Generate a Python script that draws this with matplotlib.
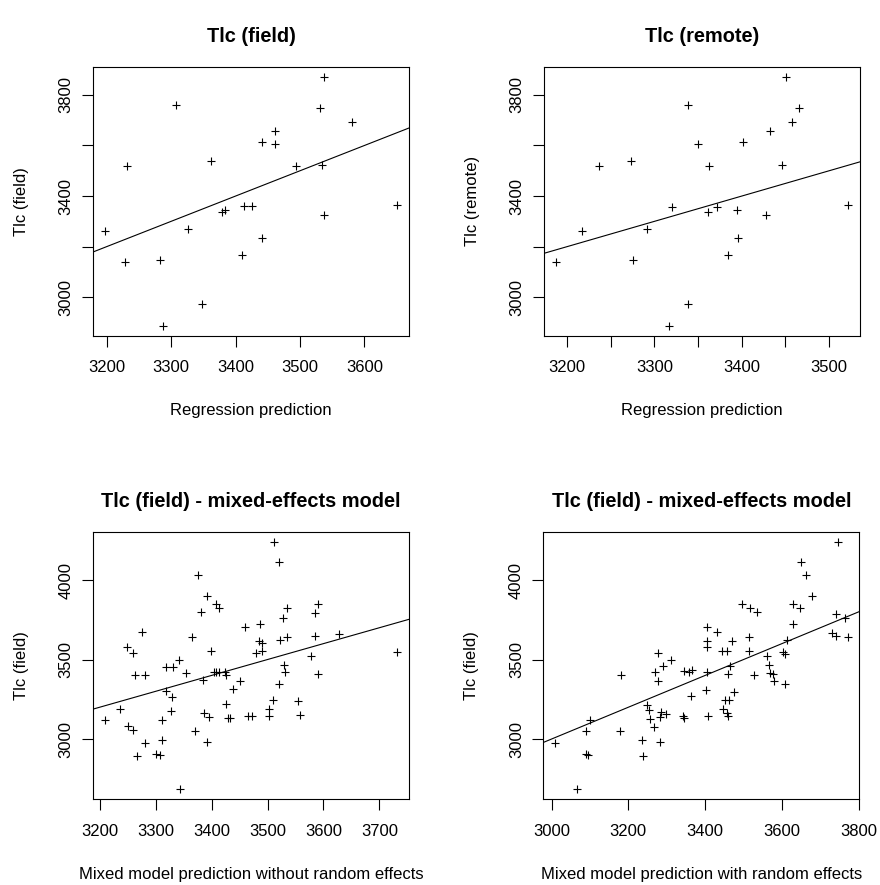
import matplotlib
matplotlib.use("Agg")
import matplotlib.pyplot as plt
from matplotlib.ticker import MultipleLocator, FuncFormatter

plt.rcParams['font.family'] = ['Liberation Sans', 'DejaVu Sans']

# top left: observed field Tlc against regression prediction
reg_pred_a = [3197, 3231, 3229, 3283, 3288, 3308, 3327, 3348, 3362, 3379, 3383, 3410, 3413,
              3426, 3441, 3441, 3461, 3461, 3494, 3531, 3534, 3537, 3537, 3581, 3651]
tlc_field_a = [3261, 3517, 3140, 3148, 2888, 3759, 3270, 2973, 3537, 3336, 3345, 3165, 3359,
               3359, 3235, 3612, 3659, 3605, 3517, 3749, 3523, 3326, 3871, 3692, 3366]

# top right: remote Tlc against regression prediction
reg_pred_b = [3187, 3217, 3236, 3273, 3275, 3291, 3317, 3320, 3338, 3339, 3350, 3361, 3363,
              3372, 3384, 3395, 3396, 3401, 3428, 3432, 3446, 3451, 3458, 3466, 3522]
tlc_remote = [3140, 3261, 3517, 3537, 3148, 3270, 2888, 3356, 3759, 2973, 3605, 3336, 3517,
              3356, 3165, 3345, 3235, 3612, 3326, 3659, 3523, 3871, 3692, 3749, 3366]

# bottom left: mixed model, fixed effects only
mm_fixed_pred = [3512, 3521, 3375, 3392, 3408, 3414, 3382, 3534, 3591, 3585, 3527, 3276, 3459,
                 3486, 3365, 3248, 3260, 3399, 3484, 3490, 3480, 3490, 3523, 3534, 3585, 3627,
                 3577, 3342, 3319, 3331, 3264, 3281, 3355, 3384, 3404, 3408, 3414, 3424, 3426,
                 3451, 3439, 3529, 3531, 3521, 3591, 3319, 3329, 3237, 3327, 3312, 3426, 3510,
                 3555, 3502, 3502, 3558, 3386, 3396, 3429, 3433, 3465, 3473, 3209, 3251, 3260,
                 3370, 3281, 3312, 3392, 3267, 3301, 3307, 3343, 3732]
tlc_field_c = [4238, 4111, 4033, 3900, 3852, 3825, 3797, 3825, 3852, 3790, 3760, 3672, 3706,
               3722, 3641, 3576, 3539, 3553, 3618, 3603, 3539, 3555, 3622, 3643, 3648, 3662,
               3522, 3495, 3455, 3455, 3405, 3405, 3413, 3372, 3424, 3420, 3424, 3420, 3401,
               3363, 3313, 3466, 3422, 3344, 3412, 3301, 3265, 3186, 3177, 3117, 3219, 3244,
               3242, 3192, 3148, 3153, 3161, 3136, 3134, 3134, 3144, 3148, 3119, 3081, 3054,
               3050, 2975, 2992, 2983, 2893, 2906, 2898, 2685, 3549]

# bottom right: mixed model with random effects
mm_random_pred = [3747, 3649, 3663, 3678, 3628, 3646, 3497, 3518, 3536, 3740, 3765, 3630, 3404,
                  3432, 3730, 3741, 3771, 3404, 3404, 3514, 3612, 3469, 3443, 3458, 3514, 3603,
                  3609, 3276, 3311, 3289, 3269, 3276, 3181, 3345, 3358, 3365, 3404, 3460, 3466,
                  3527, 3561, 3566, 3570, 3577, 3579, 3607, 3363, 3402, 3475, 3452, 3462, 3447,
                  3458, 3460, 3408, 3343, 3345, 3249, 3255, 3257, 3282, 3285, 3298, 3268, 3235,
                  3283, 3238, 3179, 3091, 3101, 3009, 3091, 3095, 3065]
tlc_field_d = [4238, 4111, 4033, 3900, 3852, 3825, 3852, 3825, 3800, 3789, 3760, 3722, 3706,
               3672, 3664, 3649, 3641, 3618, 3576, 3641, 3622, 3614, 3553, 3553, 3553, 3545,
               3537, 3539, 3495, 3457, 3420, 3367, 3405, 3426, 3420, 3436, 3420, 3411, 3457,
               3403, 3522, 3463, 3415, 3409, 3362, 3343, 3269, 3311, 3294, 3246, 3246, 3186,
               3163, 3148, 3148, 3144, 3131, 3211, 3182, 3123, 3138, 3169, 3159, 3077, 2992,
               2983, 2891, 3050, 3050, 3119, 2975, 2908, 2902, 2685]

# reference line drawn on every panel
line_intercept = 0
line_slope = 1

W, H = 880, 885
PX = 72 / 100  # points per pixel at dpi 100

# R drops every other label when they would collide: (tick step, label step, first label)
panels = [
    dict(x=reg_pred_a, y=tlc_field_a, title="Tlc (field)", xlabel="Regression prediction",
         ylabel="Tlc (field)", box=(93, 67, 409, 335.5),
         xt=(100, 100, 3200), yt=(200, 400, 3000)),
    dict(x=reg_pred_b, y=tlc_remote, title="Tlc (remote)", xlabel="Regression prediction",
         ylabel="Tlc (remote)", box=(544, 67, 860, 335.5),
         xt=(50, 100, 3200), yt=(200, 400, 3000)),
    dict(x=mm_fixed_pred, y=tlc_field_c, title="Tlc (field) - mixed-effects model",
         xlabel="Mixed model prediction without random effects", ylabel="Tlc (field)",
         box=(93, 532.3, 409, 799), xt=(100, 100, 3200), yt=(500, 500, 3000)),
    dict(x=mm_random_pred, y=tlc_field_d, title="Tlc (field) - mixed-effects model",
         xlabel="Mixed model prediction with random effects", ylabel="Tlc (field)",
         box=(543.3, 532.3, 859.3, 799), xt=(200, 200, 3000), yt=(500, 500, 3000)),
]


def every(n, start):
    return FuncFormatter(lambda v, p: f"{v:.0f}" if round(v - start) % n == 0 else "")


fig = plt.figure(figsize=(W / 100, H / 100), dpi=100)
for p in panels:
    x0, y0, x1, y1 = p["box"]
    ax = fig.add_axes([x0 / W, 1 - y1 / H, (x1 - x0) / W, (y1 - y0) / H])
    ax.plot(p["x"], p["y"], "+", color="black", ms=6, mew=0.8)
    ax.margins(0.04)
    ax.autoscale_view()
    ax.set_autoscale_on(False)  # keep R-style 4% range, line must not stretch it
    ax.axline((0, line_intercept), slope=line_slope, color="black", lw=0.8)

    ax.xaxis.set_major_locator(MultipleLocator(p["xt"][0]))
    ax.xaxis.set_major_formatter(every(p["xt"][1], p["xt"][2]))
    ax.yaxis.set_major_locator(MultipleLocator(p["yt"][0]))
    ax.yaxis.set_major_formatter(every(p["yt"][1], p["yt"][2]))
    ax.tick_params(direction="out", length=11 * PX, width=0.8, labelsize=12, colors="black")
    ax.tick_params(axis="x", pad=10)
    ax.tick_params(axis="y", pad=6, labelrotation=90)
    for lab in ax.get_yticklabels():
        lab.set_va("center")
    for s in ax.spines.values():
        s.set_linewidth(0.8)

    ax.set_title(p["title"], fontsize=14.4, fontweight="bold", pad=25 * PX)
    ax.set_xlabel(p["xlabel"], fontsize=12)
    ax.xaxis.label.set_va("baseline")
    ax.xaxis.set_label_coords(0.5, -80 / (y1 - y0))
    ax.set_ylabel(p["ylabel"], fontsize=12)
    ax.yaxis.set_label_coords(-64.5 / (x1 - x0), 0.5)

fig.savefig("out.png", dpi=100, facecolor="white")
